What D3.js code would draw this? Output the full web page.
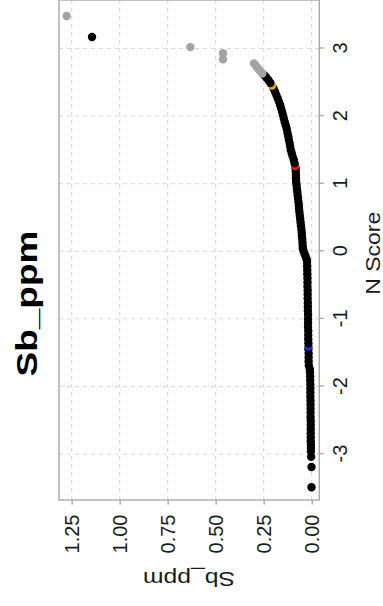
<!DOCTYPE html>
<html>
<head>
<meta charset="utf-8">
<script src="https://cdn.jsdelivr.net/npm/d3@7"></script>
<style>
  html, body { margin: 0; padding: 0; background: #fff; }
  svg { display: block; font-family: "Liberation Sans", Arial, sans-serif; }
</style>
</head>
<body>
<div class="chart"></div>
<script>
// normal scores plot, drawn in its own frame and turned a quarter turn
const nScore = [
  -3.49, -3.19, -3.04, -2.96, -2.91, -2.86, -2.81, -2.75, -2.69, -2.63,
  -2.57, -2.51, -2.45, -2.39, -2.33, -2.27, -2.21, -2.15, -2.09, -2.03,
  -1.97, -1.91, -1.85, -1.79, -1.74, -1.69, -1.63, -1.57, -1.51, -1.45,
  -1.41, -1.36, -1.30, -1.24, -1.18, -1.12, -1.06, -1.00, -0.94, -0.88,
  -0.82, -0.76, -0.70, -0.64, -0.58, -0.52, -0.46, -0.40, -0.34, -0.28,
  -0.22, -0.16, -0.12, -0.08, -0.04, 0.00, 0.04, 0.08, 0.13, 0.18,
  0.23, 0.28, 0.33, 0.38, 0.43, 0.48, 0.53, 0.58, 0.63, 0.68,
  0.73, 0.78, 0.83, 0.88, 0.93, 0.98, 1.03, 1.08, 1.13, 1.18,
  1.23, 1.26, 1.30, 1.35, 1.40, 1.45, 1.50, 1.55, 1.60, 1.65,
  1.70, 1.75, 1.81, 1.86, 1.91, 1.96, 2.01, 2.06, 2.11, 2.16,
  2.21, 2.26, 2.31, 2.36, 2.41, 2.45, 2.49, 2.53, 2.57, 2.60,
  2.63, 2.66, 2.69, 2.72, 2.75, 2.78, 2.84, 2.93, 3.02, 3.17,
  3.48
];

const sbPpm = [
  0.001, 0.001, 0.003, 0.004, 0.004, 0.004, 0.005, 0.005, 0.005, 0.005,
  0.005, 0.005, 0.006, 0.006, 0.006, 0.006, 0.006, 0.007, 0.007, 0.007,
  0.007, 0.008, 0.008, 0.009, 0.010, 0.015, 0.016, 0.016, 0.016, 0.017,
  0.017, 0.017, 0.018, 0.018, 0.018, 0.019, 0.019, 0.019, 0.019, 0.020,
  0.020, 0.020, 0.021, 0.021, 0.021, 0.022, 0.022, 0.022, 0.023, 0.023,
  0.024, 0.024, 0.026, 0.031, 0.037, 0.042, 0.046, 0.047, 0.048, 0.049,
  0.051, 0.052, 0.054, 0.056, 0.058, 0.060, 0.062, 0.064, 0.066, 0.067,
  0.069, 0.071, 0.073, 0.075, 0.077, 0.079, 0.081, 0.082, 0.082, 0.083,
  0.084, 0.086, 0.089, 0.093, 0.099, 0.104, 0.109, 0.112, 0.115, 0.119,
  0.122, 0.126, 0.130, 0.135, 0.140, 0.145, 0.149, 0.154, 0.159, 0.164,
  0.170, 0.177, 0.184, 0.191, 0.199, 0.207, 0.215, 0.225, 0.236, 0.246,
  0.257, 0.266, 0.275, 0.284, 0.292, 0.301, 0.462, 0.462, 0.632, 1.144,
  1.276
];

const categories = ['outlier', 'main', 'c1', 'c2', 'c3'];

const group = [
  'main', 'main', 'main', 'main', 'main', 'main', 'main', 'main', 'main', 'main',
  'main', 'main', 'main', 'main', 'main', 'main', 'main', 'main', 'main', 'main',
  'main', 'main', 'main', 'main', 'main', 'main', 'main', 'main', 'main', 'main',
  'c3', 'main', 'main', 'main', 'main', 'main', 'main', 'main', 'main', 'main',
  'main', 'main', 'main', 'main', 'main', 'main', 'main', 'main', 'main', 'main',
  'main', 'main', 'main', 'main', 'main', 'main', 'main', 'main', 'main', 'main',
  'main', 'main', 'main', 'main', 'main', 'main', 'main', 'main', 'main', 'main',
  'main', 'main', 'main', 'main', 'main', 'main', 'main', 'main', 'main', 'main',
  'main', 'c2', 'main', 'main', 'main', 'main', 'main', 'main', 'main', 'main',
  'main', 'main', 'main', 'main', 'main', 'main', 'main', 'main', 'main', 'main',
  'main', 'main', 'main', 'main', 'main', 'c1', 'main', 'main', 'main', 'main',
  'outlier', 'outlier', 'outlier', 'outlier', 'outlier', 'outlier', 'outlier', 'outlier', 'outlier', 'main',
  'outlier'
];

const nTicks = [-3, -2, -1, 0, 1, 2, 3];
const sbTicks = [0, 0.25, 0.5, 0.75, 1, 1.25];

const W = 383, H = 606;
const panel = { left: 106, right: 606, top: 59, bottom: 319.3 };

const svg = d3.select('.chart').append('svg')
  .attr('width', W)
  .attr('height', H);

const g = svg.append('g')
  .attr('transform', `translate(0,${H}) rotate(-90)`);

const x = d3.scaleLinear().domain([-3.679, 3.717]).range([panel.left, panel.right]);
const y = d3.scaleLinear().domain([-0.0396, 1.316]).range([panel.bottom, panel.top]);

const color = d3.scaleOrdinal()
  .domain(categories)
  .range(['#a3a3a3', '#000000', '#e2b00a', '#e3242b', '#2b2bd0']);

const gridColor = '#d6d6d6';
const frameColor = '#a8a8a8';

// grid
g.selectAll('.gx').data(nTicks).enter().append('line')
  .attr('x1', d => x(d)).attr('x2', d => x(d))
  .attr('y1', panel.top).attr('y2', panel.bottom)
  .attr('stroke', gridColor).attr('stroke-dasharray', '4,4');

g.selectAll('.gy').data(sbTicks).enter().append('line')
  .attr('x1', panel.left).attr('x2', panel.right)
  .attr('y1', d => y(d)).attr('y2', d => y(d))
  .attr('stroke', gridColor).attr('stroke-dasharray', '4,4');

// points
const pts = nScore.map((n, i) => ({ n: n, v: sbPpm[i], c: group[i] }));

g.selectAll('.pt').data(pts).enter().append('circle')
  .attr('cx', d => x(d.n))
  .attr('cy', d => y(d.v))
  .attr('r', 4.2)
  .attr('fill', d => color(d.c));

// panel border
g.append('rect')
  .attr('x', panel.left).attr('y', panel.top)
  .attr('width', panel.right - panel.left)
  .attr('height', panel.bottom - panel.top)
  .attr('fill', 'none')
  .attr('stroke', frameColor)
  .attr('stroke-width', 1.4);

// axes
const xAxis = g.append('g')
  .attr('transform', `translate(0,${panel.bottom})`)
  .call(d3.axisBottom(x).tickValues(nTicks).tickSize(4.5).tickPadding(9).tickFormat(d => String(d)));

const yAxis = g.append('g')
  .attr('transform', `translate(${panel.left},0)`)
  .call(d3.axisLeft(y).tickValues(sbTicks).tickSize(4.5).tickPadding(10).tickFormat(d3.format('.2f')));

[xAxis, yAxis].forEach(a => {
  a.select('.domain').remove();
  a.selectAll('.tick line').attr('stroke', frameColor).attr('stroke-width', 1.4);
  a.selectAll('.tick text')
    .attr('fill', '#1a1a1a')
    .style('font-size', '20px')
    .style('font-family', '"Liberation Sans", Arial, sans-serif');
});

// titles
g.append('text')
  .attr('x', 302.5)
  .attr('y', 36.7)
  .attr('text-anchor', 'middle')
  .attr('textLength', 146)
  .attr('lengthAdjust', 'spacingAndGlyphs')
  .style('font-size', '30px')
  .style('font-weight', 'bold')
  .text('Sb_ppm');

g.append('text')
  .attr('x', 352.7)
  .attr('y', 380)
  .attr('text-anchor', 'middle')
  .attr('textLength', 83)
  .attr('lengthAdjust', 'spacingAndGlyphs')
  .attr('fill', '#1a1a1a')
  .style('font-size', '21px')
  .text('N Score');

g.append('text')
  .attr('transform', `translate(33.6,189) rotate(-90)`)
  .attr('text-anchor', 'middle')
  .attr('textLength', 92)
  .attr('lengthAdjust', 'spacingAndGlyphs')
  .attr('fill', '#1a1a1a')
  .style('font-size', '21px')
  .text('Sb_ppm');
</script>
</body>
</html>
